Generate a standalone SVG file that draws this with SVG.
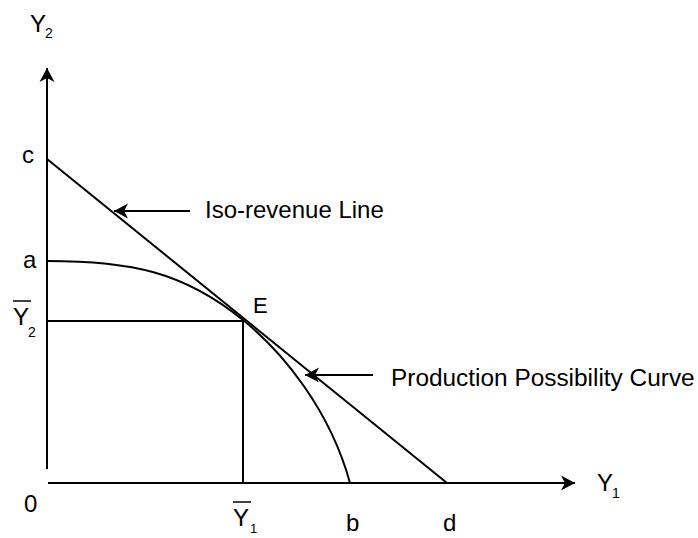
<svg xmlns="http://www.w3.org/2000/svg" width="698" height="538" viewBox="0 0 698 538">
<defs>
<marker id="ah" markerUnits="userSpaceOnUse" markerWidth="20" markerHeight="20" viewBox="-16 -10 20 20" refX="0" refY="0" orient="auto">
<path d="M0,0 L-14,-7.5 L-10,0 L-14,7.5 Z" fill="#000"/>
</marker>
</defs>
<style>
.ln{stroke:#000;stroke-width:2;fill:none}
.t{font-family:"Liberation Sans",Arial,sans-serif;font-size:24px;fill:#000}
.s{font-family:"Liberation Sans",Arial,sans-serif;font-size:14px;fill:#000}
</style>
<rect width="698" height="538" fill="#fff"/>
<g id="connectors">
<line class="ln" x1="47" y1="469" x2="47" y2="68" marker-end="url(#ah)"/>
<line class="ln" x1="48" y1="483" x2="575" y2="483" marker-end="url(#ah)"/>
<line class="ln" x1="47" y1="159" x2="447" y2="483"/>
<path class="ln" d="M47,261 C130,261 183,271.4 243,320 C283,352.4 330,410 350,483"/>
<line class="ln" x1="47" y1="321" x2="243" y2="321"/>
<line class="ln" x1="243" y1="320" x2="243" y2="483"/>
<line class="ln" x1="190" y1="211" x2="114" y2="211" marker-end="url(#ah)"/>
<line class="ln" x1="373" y1="375" x2="305" y2="375" marker-end="url(#ah)"/>
</g>
<g id="axis-y2"><text class="t" x="30" y="32">Y</text><text class="s" x="45" y="38">2</text></g>
<g id="label-c"><text class="t" x="22" y="163">c</text></g>
<g id="label-a"><text class="t" x="23" y="268">a</text></g>
<g id="label-y2bar"><line x1="13" y1="301" x2="31" y2="301" stroke="#000" stroke-width="1.5"/><text class="t" x="13" y="325">Y</text><text class="s" x="28" y="337">2</text></g>
<g id="label-e"><text class="t" x="253" y="313" style="font-size:22px">E</text></g>
<g id="label-0"><text class="t" x="24" y="512">0</text></g>
<g id="label-y1bar"><line x1="233" y1="502" x2="251" y2="502" stroke="#000" stroke-width="1.5"/><text class="t" x="233" y="526">Y</text><text class="s" x="250" y="533" style="font-size:13px">1</text></g>
<g id="label-b"><text class="t" x="346" y="531">b</text></g>
<g id="label-d"><text class="t" x="443" y="531">d</text></g>
<g id="axis-y1"><text class="t" x="597" y="491">Y</text><text class="s" x="612" y="498">1</text></g>
<g id="label-iso"><text class="t" x="205" y="218">Iso-revenue Line</text></g>
<g id="label-ppc"><text class="t" x="391" y="386" style="font-size:24.4px">Production Possibility Curve</text></g>
</svg>
